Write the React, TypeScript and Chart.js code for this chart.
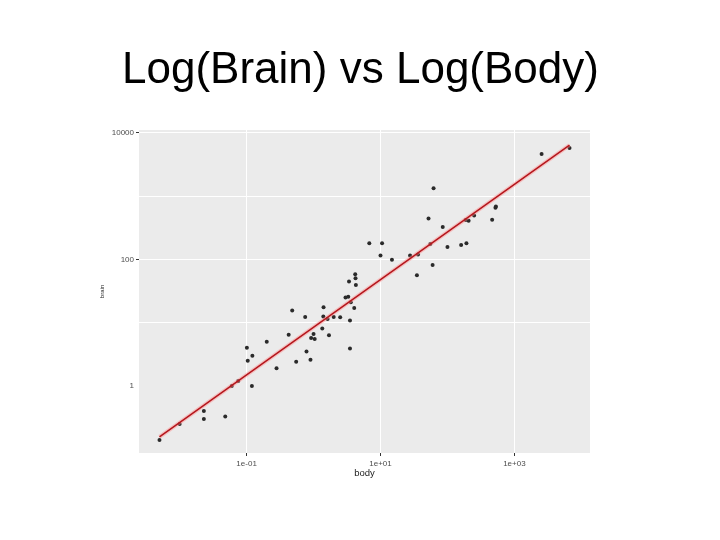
import React, { useEffect, useRef } from 'react';
import { Chart, registerables } from 'chart.js';

Chart.register(...registerables);

// Body weight (kg) and brain weight (g) for each mammal
const bodyKg = [
  3.385, 0.48, 1.35, 465, 36.33, 27.66, 14.83, 1.04, 4.19, 0.425,
  0.101, 0.92, 1.0, 0.005, 0.06, 3.5, 2.0, 1.7, 2547, 0.023,
  187.1, 521, 0.785, 10.0, 3.3, 0.2, 1.41, 529, 207, 85,
  0.75, 62, 6654, 3.5, 6.8, 35, 4.05, 0.12, 0.023, 0.01,
  1.4, 250, 2.5, 55.5, 100, 52.16, 10.55, 0.55, 60, 3.6,
  4.288, 0.28, 0.075, 0.122, 0.048, 192, 3.0, 160, 0.9, 1.62,
  0.104, 4.235,
];
const brainG = [
  44.5, 15.5, 8.1, 423, 119.5, 115, 98.2, 5.5, 58, 6.4,
  4.0, 5.7, 6.6, 0.14, 1.0, 10.8, 12.3, 6.3, 4603, 0.3,
  419, 655, 3.5, 115, 25.6, 5.0, 17.5, 680, 406, 325,
  12.3, 1320, 5712, 3.9, 179, 56, 17, 1.0, 0.4, 0.25,
  12.5, 490, 12.1, 175, 157, 440, 179.5, 2.4, 81, 21,
  39.2, 1.9, 1.2, 3.0, 0.33, 180, 25, 169, 2.6, 11.4,
  2.5, 50.4,
];

// Fitted regression line end points
const fitBody = [0.005, 6654];
const fitBrain = [0.157, 6340];

const xTickValues = [0.1, 10, 1000];
const xTickLabels = ['1e-01', '1e+01', '1e+03'];
const yTickValues = [1, 10, 100, 1000, 10000];
const yTickLabels = ['1', '', '100', '', '10000'];

const titleText = 'Log(Brain) vs Log(Body)';
const xTitle = 'body';
const yTitle = 'brain';

export default function App() {
  const ref = useRef<HTMLCanvasElement | null>(null);

  useEffect(() => {
    const canvas = ref.current;
    if (!canvas) return;

    const bgPlugin = {
      id: 'panelBg',
      beforeDraw(chart: any) {
        const { ctx, chartArea } = chart;
        ctx.save();
        ctx.fillStyle = '#ffffff';
        ctx.fillRect(0, 0, chart.width, chart.height);
        ctx.fillStyle = '#EBEBEB';
        ctx.fillRect(chartArea.left, chartArea.top, chartArea.right - chartArea.left, chartArea.bottom - chartArea.top);
        ctx.restore();
      },
      afterDraw(chart: any) {
        const { ctx } = chart;
        ctx.save();
        ctx.fillStyle = '#000000';
        ctx.font = '44px "Liberation Sans", Arial, sans-serif';
        ctx.textAlign = 'center';
        ctx.textBaseline = 'alphabetic';
        ctx.fillText(titleText, 360.5, 83);
        ctx.restore();
      },
    };

    const points = bodyKg.map((b, i) => ({ x: b, y: brainG[i] }));
    const fit = fitBody.map((b, i) => ({ x: b, y: fitBrain[i] }));

    const chart = new Chart(canvas, {
      type: 'scatter',
      data: {
        datasets: [
          {
            type: 'line',
            data: fit,
            borderColor: '#b5161c',
            borderWidth: 1.5,
            pointRadius: 0,
            fill: false,
            order: 0,
          } as any,
          {
            type: 'line',
            data: fit,
            borderColor: 'rgba(255,140,140,0.45)',
            borderWidth: 4,
            pointRadius: 0,
            fill: false,
            order: 1,
          } as any,
          {
            data: points,
            backgroundColor: '#2a2a2a',
            borderColor: '#2a2a2a',
            pointRadius: 2,
            borderWidth: 0,
            order: 2,
          },
        ],
      },
      options: {
        animation: false,
        responsive: false,
        devicePixelRatio: 1,
        layout: { padding: { left: 95, right: 130, top: 130, bottom: 57 } },
        plugins: {
          legend: { display: false },
          tooltip: { enabled: false },
          title: { display: false },
        },
        scales: {
          x: {
            type: 'logarithmic',
            min: Math.pow(10, -2.607),
            max: Math.pow(10, 4.129),
            border: { display: false },
            grid: {
              color: '#ffffff',
              lineWidth: 1,
              drawTicks: true,
              tickLength: 3,
              tickColor: '#333333',
            },
            afterBuildTicks: (scale: any) => {
              scale.ticks = xTickValues.map((v) => ({ value: v }));
            },
            afterFit: (scale: any) => {
              scale.height = 30;
            },
            ticks: {
              autoSkip: false,
              maxRotation: 0,
              minRotation: 0,
              padding: 3,
              color: '#4D4D4D',
              font: { family: '"Liberation Sans", Arial, sans-serif', size: 8 },
              callback: (_v: any, i: number) => xTickLabels[i],
            },
            title: {
              display: true,
              text: xTitle,
              color: '#222222',
              font: { family: '"Liberation Sans", Arial, sans-serif', size: 9.5 },
              padding: { top: 2, bottom: 4 },
            },
          },
          y: {
            type: 'logarithmic',
            min: Math.pow(10, -1.06),
            max: Math.pow(10, 4.0427),
            border: { display: false },
            grid: {
              color: (ctx: any) => (ctx.tick && ctx.tick.value === 1 ? 'rgba(0,0,0,0)' : '#ffffff'),
              lineWidth: 1,
              drawTicks: true,
              tickLength: 3,
              tickColor: (ctx: any) =>
                ctx.tick && (ctx.tick.value === 100 || ctx.tick.value === 10000) ? '#333333' : 'rgba(0,0,0,0)',
            },
            afterBuildTicks: (scale: any) => {
              scale.ticks = yTickValues.map((v) => ({ value: v }));
            },
            afterFit: (scale: any) => {
              scale.width = 44;
            },
            ticks: {
              autoSkip: false,
              padding: 2,
              color: '#4D4D4D',
              font: { family: '"Liberation Sans", Arial, sans-serif', size: 8 },
              callback: (_v: any, i: number) => yTickLabels[i],
            },
            title: {
              display: true,
              text: yTitle,
              color: '#222222',
              font: { family: '"Liberation Sans", Arial, sans-serif', size: 6 },
              padding: { top: 4, bottom: 2 },
            },
          },
        },
      } as any,
      plugins: [bgPlugin],
    });

    return () => chart.destroy();
  }, []);

  return (
    <div style={{ position: 'fixed', left: 0, top: 0, width: 720, height: 540, background: '#fff' }}>
      <canvas ref={ref} width={720} height={540} style={{ width: 720, height: 540, display: 'block' }} />
    </div>
  );
}
